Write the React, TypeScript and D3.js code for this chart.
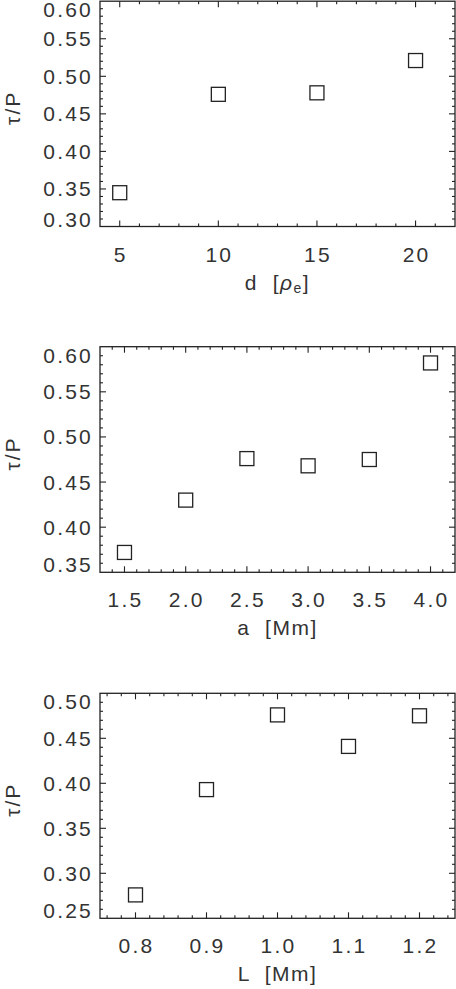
import React, { useEffect, useRef } from "react";
import * as d3 from "d3";

// panel 1: separation d
const dValues = [5, 10, 15, 20];
const dTau = [0.345, 0.476, 0.478, 0.521];
const dTicks = [5, 10, 15, 20];
const dTauTicks = [0.3, 0.35, 0.4, 0.45, 0.5, 0.55, 0.6];

// panel 2: radius a
const aValues = [1.5, 2.0, 2.5, 3.0, 3.5, 4.0];
const aTau = [0.372, 0.43, 0.476, 0.468, 0.475, 0.582];
const aTicks = [1.5, 2.0, 2.5, 3.0, 3.5, 4.0];
const aTauTicks = [0.35, 0.4, 0.45, 0.5, 0.55, 0.6];

// panel 3: length L
const lValues = [0.8, 0.9, 1.0, 1.1, 1.2];
const lTau = [0.276, 0.393, 0.476, 0.441, 0.475];
const lTicks = [0.8, 0.9, 1.0, 1.1, 1.2];
const lTauTicks = [0.25, 0.3, 0.35, 0.4, 0.45, 0.5];

const INK = "#222";
const TEXT = "#333";
const FONT = "'Liberation Sans', Arial, sans-serif";

const panels = [
  {
    xs: dValues, ys: dTau, xTicks: dTicks, yTicks: dTauTicks,
    xDomain: [4, 22], yDomain: [0.3, 0.6], yRange: [226.5, 1.2],
    xMinor: 1, yMinor: 0.01, xFmt: "d", yFmt: ".2f", title: "d",
  },
  {
    xs: aValues, ys: aTau, xTicks: aTicks, yTicks: aTauTicks,
    xDomain: [1.3, 4.2], yDomain: [0.35, 0.6], yRange: [572.3, 346.7],
    xMinor: 0.1, yMinor: 0.01, xFmt: ".1f", yFmt: ".2f", title: "a  [Mm]",
  },
  {
    xs: lValues, ys: lTau, xTicks: lTicks, yTicks: lTauTicks,
    xDomain: [0.75, 1.25], yDomain: [0.25, 0.5], yRange: [918.3, 693.3],
    xMinor: 0.02, yMinor: 0.01, xFmt: ".1f", yFmt: ".2f", title: "L  [Mm]",
  },
];

export default function App() {
  const ref = useRef<SVGSVGElement>(null);

  useEffect(() => {
    const svg = d3.select(ref.current);
    svg.selectAll("*").remove();

    panels.forEach((p, pi) => {
      const x = d3.scaleLinear().domain(p.xDomain).range([100, 455]);
      const y = d3.scaleLinear().domain(p.yDomain).range(p.yRange);
      const [x0, x1] = x.range();
      const [yb, yt] = y.range();
      const g = svg.append("g").attr("class", `panel-${pi}`);

      // frame
      g.append("rect")
        .attr("x", x0).attr("y", yt)
        .attr("width", x1 - x0).attr("height", yb - yt)
        .attr("fill", "none").attr("stroke", INK).attr("stroke-width", 1.3);

      // minor + major ticks on all four sides, pointing in
      const eps = 1e-9;
      const xMinors = d3.range(Math.ceil(p.xDomain[0] / p.xMinor - eps) * p.xMinor, p.xDomain[1] + eps, p.xMinor)
        .filter((v) => v > p.xDomain[0] + eps && v < p.xDomain[1] - eps);
      const yMinors = d3.range(Math.ceil(p.yDomain[0] / p.yMinor - eps) * p.yMinor, p.yDomain[1] + eps, p.yMinor)
        .filter((v) => v > p.yDomain[0] + eps && v < p.yDomain[1] - eps);

      const tickG = g.append("g").attr("stroke", INK).attr("stroke-width", 1.1);
      xMinors.forEach((v) => {
        const isMajor = p.xTicks.some((t) => Math.abs(t - v) < 1e-6);
        const len = isMajor ? 6 : 3;
        tickG.append("line").attr("x1", x(v)).attr("x2", x(v)).attr("y1", yb).attr("y2", yb - len);
        tickG.append("line").attr("x1", x(v)).attr("x2", x(v)).attr("y1", yt).attr("y2", yt + len);
      });
      yMinors.forEach((v) => {
        const isMajor = p.yTicks.some((t) => Math.abs(t - v) < 1e-6);
        const len = isMajor ? 6 : 3;
        tickG.append("line").attr("x1", x0).attr("x2", x0 + len).attr("y1", y(v)).attr("y2", y(v));
        tickG.append("line").attr("x1", x1).attr("x2", x1 - len).attr("y1", y(v)).attr("y2", y(v));
      });

      // tick labels (end labels kept inside the axis span)
      const lab = g.append("g")
        .attr("font-family", FONT).attr("font-size", 21)
        .attr("fill", TEXT).attr("letter-spacing", 2.2);
      const half = 7.5;
      lab.selectAll(".yl").data(p.yTicks).join("text")
        .attr("class", "yl")
        .attr("text-anchor", "end")
        .attr("x", 93)
        .attr("y", (d) => Math.min(Math.max(y(d), yt + half + 0.8), yb - half) + half)
        .text((d) => d3.format(p.yFmt)(d));
      lab.selectAll(".xl").data(p.xTicks).join("text")
        .attr("class", "xl")
        .attr("text-anchor", "middle")
        .attr("x", (d) => x(d) + 1)
        .attr("y", yb + 35)
        .text((d) => d3.format(p.xFmt)(d));

      // axis titles
      const xt = g.append("text")
        .attr("font-family", FONT).attr("font-size", 21)
        .attr("fill", TEXT).attr("letter-spacing", 1.5)
        .attr("text-anchor", "middle")
        .style("white-space", "pre")
        .attr("x", (x0 + x1) / 2)
        .attr("y", yb + 63);
      if (p.title === "d") {
        xt.append("tspan").text("d  [");
        xt.append("tspan").attr("font-style", "italic").text("ρ");
        xt.append("tspan").attr("font-size", 14).attr("dy", 3).text("e");
        xt.append("tspan").attr("dy", -3).text("]");
      } else {
        xt.text(p.title);
      }

      g.append("text")
        .attr("font-family", FONT).attr("font-size", 21)
        .attr("fill", TEXT).attr("letter-spacing", 2)
        .attr("text-anchor", "middle")
        .attr("transform", `translate(20,${(yt + yb) / 2 - 6}) rotate(-90)`)
        .text("τ/P");

      // data squares
      const s = 14;
      g.selectAll(".pt").data(p.xs.map((v, i) => [v, p.ys[i]])).join("rect")
        .attr("class", "pt")
        .attr("x", (d) => x(d[0]) - s / 2)
        .attr("y", (d) => y(d[1]) - s / 2)
        .attr("width", s).attr("height", s)
        .attr("fill", "none").attr("stroke", INK).attr("stroke-width", 1.3);
    });
  }, []);

  return (
    <svg
      ref={ref}
      width={456}
      height={989}
      style={{ position: "absolute", left: 0, top: 0, background: "#fff" }}
    />
  );
}
